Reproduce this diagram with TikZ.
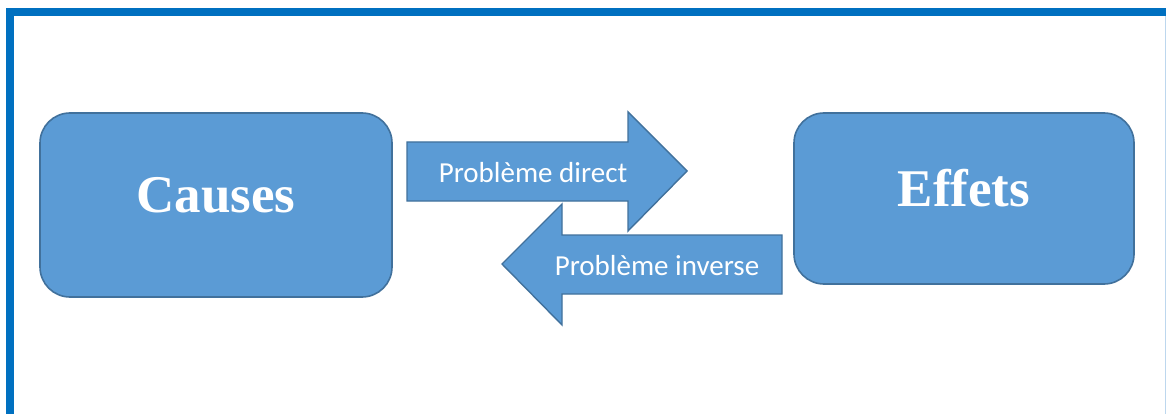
\documentclass[tikz,border=0pt]{standalone}
\usepackage{fontspec}
\setmainfont{Liberation Serif}
\newfontfamily\calib{Carlito}
\usetikzlibrary{shapes.arrows}
\definecolor{boxfill}{HTML}{5B9BD5}
\definecolor{boxline}{HTML}{41719C}
\definecolor{frameblue}{HTML}{0070C0}
\definecolor{faintblue}{HTML}{BDD7EE}
\tikzset{
  x=1pt, y=-1pt,
  blockbox/.style={fill=boxfill, draw=boxline, line width=1.6pt, rounded corners=30pt},
  bigarrow/.style={fill=boxfill, draw=boxline, line width=1.4pt, line join=miter},
  bigtext/.style={text=white, font=\fontsize{53}{58}\selectfont\bfseries},
  arrowtext/.style={text=white, font=\calib\fontsize{29}{32}\selectfont},
}
\begin{document}
\begin{tikzpicture}
\useasboundingbox (0,0) rectangle (1166,414);
\fill[white] (0,0) rectangle (1166,414);
% frame
\fill[frameblue] (6,8) rectangle (1166,16);
\fill[frameblue] (6,8) rectangle (14,414);
\draw[faintblue, line width=1pt] (1165,16) -- (1165,414);
% blocks
\draw[blockbox] (40,113) rectangle (392,297);
\node[bigtext] (causes) at (216,195) {Causes};
\draw[blockbox] (794,113) rectangle (1134,284);
\node[bigtext] (effets) at (964,188) {Effets};
% forward arrow
\draw[bigarrow] (407,142) -- (628,142) -- (628,112) -- (687,171) -- (628,231) -- (628,201) -- (407,201) -- cycle;
\node[arrowtext] (direct) at (533,173) {Problème direct};
% backward arrow
\draw[bigarrow] (782,235) -- (562,235) -- (562,204) -- (502,264) -- (562,325) -- (562,294) -- (782,294) -- cycle;
\node[arrowtext] (inverse) at (657,266) {Problème inverse};
\end{tikzpicture}
\end{document}
